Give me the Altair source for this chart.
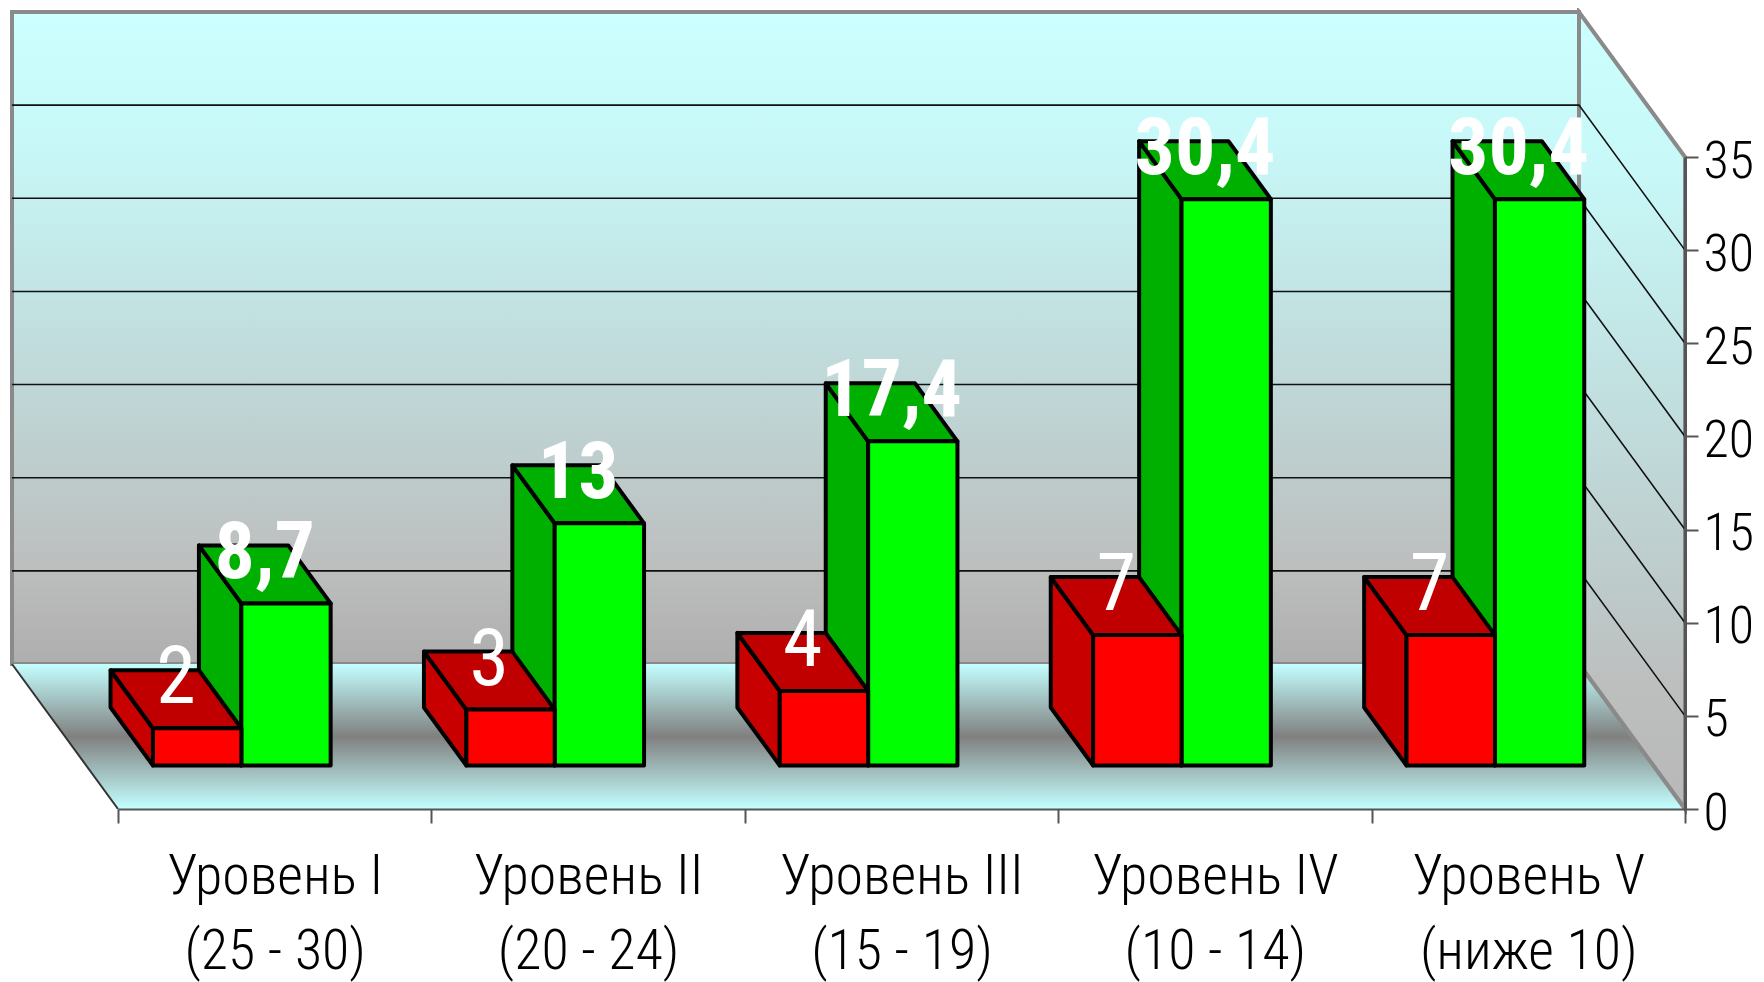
import altair as alt
import pandas as pd

levels = ["Уровень I", "Уровень II", "Уровень III", "Уровень IV", "Уровень V"]
ranges = ["(25 - 30)", "(20 - 24)", "(15 - 19)", "(10 - 14)", "(ниже 10)"]
red_values = [2, 3, 4, 7, 7]
green_values = [8.7, 13, 17.4, 30.4, 30.4]
grid_values = [5, 10, 15, 20, 25, 30]

# oblique projection of the 3-D box, in axis units
W, H = 1567, 652
N, VMAX = len(levels), 35
DU, DV = 106 / (W / N), 145 / (H / VMAX)
Z0, Z1 = 0.30, 0.70
RED_L, MID, GREEN_R = 0.213, 0.495, 0.78
FONT = "Roboto Condensed, Liberation Sans"

y_axis = alt.Axis(orient="right", values=[0, 5, 10, 15, 20, 25, 30, 35], grid=False, title=None,
                  tickSize=13, tickWidth=2, tickColor="#555555", domainColor="#555555",
                  domainWidth=3, labelFont=FONT, labelFontSize=52, labelFontWeight=300, labelColor="black",
                  labelPadding=5, labelOffset=4, zindex=1)
X = lambda f="x": alt.X(f"{f}:Q", scale=alt.Scale(domain=[0, N], nice=False, zero=False), axis=None)
Y = lambda f="y": alt.Y(f"{f}:Q", scale=alt.Scale(domain=[0, VMAX], nice=False, zero=False), axis=y_axis, stack=None)


def pu(u, z):
    return u - DU * z


def pv(v, z):
    return v + DV * z


def front(vals, l, r):
    return pd.DataFrame([
        {"id": i, "x": pu(i + u, Z0), "y": pv(0, Z0), "y2": pv(v, Z0)}
        for i, v in enumerate(vals) for u in (l, r)])


def side(vals, l):
    return pd.DataFrame([
        {"id": i, "x": pu(i + l, z), "y": pv(0, z), "y2": pv(v, z)}
        for i, v in enumerate(vals) for z in (Z0, Z1)])


def top(vals, l, r):
    return pd.DataFrame([
        {"id": i, "x": pu(i + l, z), "x2": pu(i + r, z), "y": pv(v, z)}
        for i, v in enumerate(vals) for z in (Z0, Z1)])


def vface(df, color):
    return alt.Chart(df).mark_area(color=color, stroke="black", strokeWidth=4, strokeJoin="round").encode(
        x=X(), y=Y(), y2="y2:Q", detail="id:N")


def hface(df, color):
    return alt.Chart(df).mark_area(orient="horizontal", color=color, stroke="black", strokeWidth=4,
                                   strokeJoin="round").encode(x=X(), x2="x2:Q", y=Y(), detail="id:N")


def grad(*stops):
    return alt.Gradient(gradient="linear", x1=0, x2=0, y1=0, y2=1,
                        stops=[alt.GradientStop(offset=o, color=c) for o, c in stops])


cat_df = pd.DataFrame({"cat": [a + "|" + b for a, b in zip(levels, ranges)], "y": [0] * N})
axis_layer = alt.Chart(cat_df).mark_point(opacity=0).encode(
    x=alt.X("cat:N", sort=None, title=None,
            scale=alt.Scale(type="band", paddingInner=0, paddingOuter=0),
            axis=alt.Axis(orient="bottom", labelExpr="split(datum.label, '|')", labelAngle=0,
                          tickBand="extent", tickSize=14, tickWidth=2, tickColor="#555555",
                          domainColor="#555555", domainWidth=2, labelFont=FONT, labelFontSize=56,
                          labelFontWeight=300, labelColor="black", labelPadding=26, labelLineHeight=75,
                          labelLimit=0, zindex=1)),
    y=Y(),
)

WALL_STOPS = [(0, "#CCFFFF"), (0.2, "#C8F8F8"), (0.45, "#C2E2E2"), (0.7, "#BECCCC"), (0.85, "#BDBEBE")]
back_wall = alt.Chart(pd.DataFrame([
    {"x": pu(u, 1), "y": pv(0, 1), "y2": pv(VMAX, 1)} for u in (0, N)
])).mark_area(color=grad(*WALL_STOPS, (1, "#AEAEAE")),
              stroke="#8A8A8A", strokeWidth=4).encode(x=X(), y=Y(), y2="y2:Q")

right_wall = alt.Chart(pd.DataFrame([
    {"x": pu(N, z), "y": pv(0, z), "y2": pv(VMAX, z)} for z in (1, 0)
])).mark_area(color=grad(*WALL_STOPS, (1, "#B8B8B8")),
              stroke="#8A8A8A", strokeWidth=4).encode(x=X(), y=Y(), y2="y2:Q")

floor = alt.Chart(pd.DataFrame([
    {"x": pu(0, z), "x2": pu(N, z), "y": pv(0, z)} for z in (0, 1)
])).mark_area(orient="horizontal",
              color=grad((0, "#C4FFFF"), (0.5, "#808080"), (1, "#C4FFFF"))).encode(x=X(), x2="x2:Q", y=Y())

floor_left = alt.Chart(pd.DataFrame([{"x": pu(0, z), "y": pv(0, z)} for z in (0, 1)])).mark_line(
    color="#333333", strokeWidth=2).encode(x=X(), y=Y())
floor_right = alt.Chart(pd.DataFrame([{"x": pu(N, z), "y": pv(0, z)} for z in (0, 1)])).mark_line(
    color="#8A8A8A", strokeWidth=4).encode(x=X(), y=Y())

grid_df = pd.DataFrame([
    {"g": g, "o": o, "x": x, "y": y}
    for g in grid_values
    for o, (x, y) in enumerate([(pu(0, 1), pv(g, 1)), (pu(N, 1), pv(g, 1)), (pu(N, 0), pv(g, 0))])])
grid = alt.Chart(grid_df).mark_line(color="#111111", strokeWidth=1.6).encode(
    x=X(), y=Y(), detail="g:N", order="o:Q")


def labels(vals, l, r, weight):
    df = pd.DataFrame([
        {"x": pu(i + (l + r) / 2, 0.5), "y": pv(v, Z1), "t": str(v).replace(".", ",")}
        for i, v in enumerate(vals)])
    return alt.Chart(df).mark_text(font=FONT, fontSize=80, fontWeight=weight, color="white",
                                   baseline="middle", align="center", dy=9).encode(
        x=X(), y=Y(), text="t:N")


layers = [
    axis_layer, back_wall, right_wall, floor, floor_left, floor_right, grid,
    vface(side(green_values, MID), "#00B000"), hface(top(green_values, MID, GREEN_R), "#00B000"),
    vface(front(green_values, MID, GREEN_R), "#00FF00"),
    vface(side(red_values, RED_L), "#C80000"), hface(top(red_values, RED_L, MID), "#C00000"),
    vface(front(red_values, RED_L, MID), "#FF0000"),
    labels(red_values, RED_L, MID, "normal"), labels(green_values, MID, GREEN_R, "bold"),
]

chart = alt.layer(*layers).resolve_scale(x="independent").properties(
    width=W, height=H, autosize=alt.AutoSizeParams(type="none"),
    padding={"left": 110, "top": 149, "right": 71, "bottom": 173}
).configure_view(stroke=None).configure(background="white")

chart.save("out.html", embed_options={"renderer": "svg", "actions": False})
